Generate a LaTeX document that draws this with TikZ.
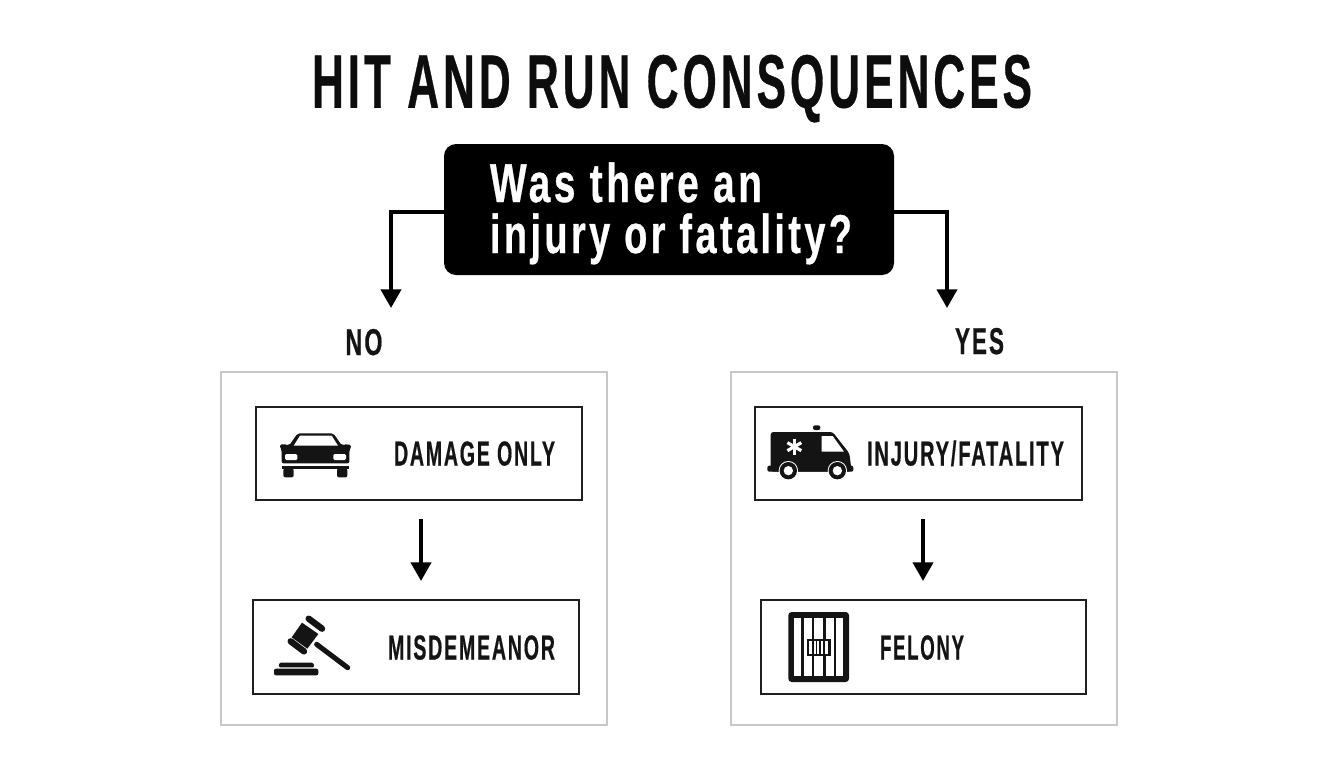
\documentclass[tikz,border=0pt]{standalone}
\usepackage{fontspec}
\usepackage{graphicx}
\setmainfont{Liberation Sans}
\newfontfamily\spacedbold{Liberation Sans Bold}[LetterSpace=9,FakeBold=0.7]
\usetikzlibrary{arrows.meta}
\newcommand{\fitw}[3]{\resizebox{\dimexpr 0.75pt*#1\relax}{\height}{\fontsize{#2}{#2}\spacedbold #3}}
\tikzset{
  every node/.style={inner sep=0pt,outer sep=0pt},
  panel/.style={draw=black!22,line width=1.6pt},
  itembox/.style={draw=black!88,line width=2pt},
  conn/.style={draw=black,line width=3pt,-{Triangle[length=14pt,width=15pt]}},
  lbl/.style={anchor=base west,text=black!92},
  ink/.style={fill=black!92,draw=none},
  paper/.style={fill=white,draw=none},
}
\begin{document}
\begin{tikzpicture}[x=0.75pt,y=-0.75pt]
\useasboundingbox[fill=white] (0,0) rectangle (1344,768);
% title
\node[anchor=base west,text=black!95] (title) at (312,107.5) {\fitw{720}{56.5pt}{HIT AND RUN CONSQUENCES}};
% question
\node[fill=black,rounded corners=9pt,minimum width=337.5pt,minimum height=98.25pt] (q) at (669,209.5) {};
\node[anchor=base west,text=white] (q1) at (490,202) {\fitw{272}{41pt}{Was there an}};
\node[anchor=base west,text=white] (q2) at (490,253) {\fitw{362}{41pt}{injury or fatality?}};
% connectors
\coordinate (lt) at (391,308);
\coordinate (rt) at (947,308);
\coordinate (lj) at (391,212);
\coordinate (rj) at (947,212);
\draw[conn] (q.west |- lj) -| (lt);
\draw[conn] (q.east |- rj) -| (rt);
\node[anchor=base west,text=black!92] (no) at (345.5,355) {\fitw{37}{28pt}{NO}};
\node[anchor=base west,text=black!92] (yes) at (955,354) {\fitw{49}{28pt}{YES}};
% panels
\node[panel,minimum width=289.5pt,minimum height=264.75pt] (pl) at (414,548.5) {};
\node[panel,minimum width=289.5pt,minimum height=264.75pt] (pr) at (924,548.5) {};
% item boxes
\node[itembox,minimum width=244.5pt,minimum height=69.75pt] (a) at (419,453.5) {};
\node[itembox,minimum width=244.5pt,minimum height=70.5pt] (b) at (416,647) {};
\node[itembox,minimum width=245.25pt,minimum height=69.75pt] (c) at (918.5,453.5) {};
\node[itembox,minimum width=243.75pt,minimum height=70.5pt] (d) at (923.5,647) {};
% labels
\node[lbl] (ta) at (394,465.5) {\fitw{161}{26pt}{DAMAGE ONLY}};
\node[lbl] (tb) at (388,659.5) {\fitw{167}{26pt}{MISDEMEANOR}};
\node[lbl] (tc) at (867,465.5) {\fitw{197}{26pt}{INJURY/FATALITY}};
\node[lbl] (td) at (880,659.5) {\fitw{84}{26pt}{FELONY}};
% inner arrows
\coordinate (a1) at (421,519); \coordinate (a2) at (421,581);
\coordinate (c1) at (923,519); \coordinate (c2) at (923,581);
\draw[conn] (a1) -- (a2);
\draw[conn] (c1) -- (c2);
% car icon
\begin{scope}[shift={(250,400)},x=0.25pt,y=-0.25pt]
  \fill[ink,rounded corners=1.5pt] (88,136) -- (100,131) -- (117,137) -- (143,100) -- (250,100) -- (276,137) -- (292,131) -- (305,138) -- (298,150) -- (298,190) -- (95,190) -- (95,150) -- cycle;
  \fill[paper] (131,137) -- (150,107) -- (245,107) -- (264,137) -- cycle;
  \fill[paper,rounded corners=1pt] (105,162) rectangle (142,180);
  \fill[paper,rounded corners=1pt] (250,162) rectangle (288,180);
  \fill[ink] (95,197) rectangle (298,208);
  \fill[ink,rounded corners=1.5pt] (100,205) rectangle (131,232);
  \fill[ink,rounded corners=1.5pt] (261,205) rectangle (292,232);
\end{scope}
% gavel icon
\begin{scope}[shift={(250,400)},x=0.25pt,y=-0.25pt]
  \fill[ink] (156,668) -- (205,702) -- (172,746) -- (125,712) -- cycle;
  \draw[black!92,line width=4.8pt,line cap=round] (176,656) -- (216,686);
  \draw[black!92,line width=4.8pt,line cap=round] (122,724) -- (162,754);
  \draw[black!92,line width=3.8pt,line cap=round] (200,733) -- (293,803);
  \fill[ink,rounded corners=1pt] (88,788) -- (190,788) -- (193,802) -- (86,802) -- cycle;
  \fill[ink,rounded corners=1.5pt] (72,806) rectangle (205,826);
\end{scope}
% ambulance icon
\begin{scope}[shift={(750,400)},x=0.25pt,y=-0.25pt]
  \fill[ink,rounded corners=1.5pt] (189,90) -- (189,76) -- (211,76) -- (211,90) -- cycle;
  \fill[ink,rounded corners=2pt] (62,215) -- (62,96) -- (248,96) -- (298,160) -- (303,198) -- (303,215) -- cycle;
  \fill[ink,rounded corners=1.5pt] (52,197) rectangle (310,215);
  \fill[paper] (215,108) -- (248,108) -- (282,155) -- (215,155) -- cycle;
  \foreach \ang in {0,60,120} {
    \draw[white,line width=2.4pt] (133,140) ++(\ang+90:-24) -- ++(\ang+90:48);
  }
  \foreach \wx in {115,262} {
    \fill[paper] (\wx,212) circle[radius=29];
    \fill[ink] (\wx,212) circle[radius=26];
    \fill[paper] (\wx,212) circle[radius=14];
  }
\end{scope}
% jail icon
\begin{scope}[shift={(750,400)},x=0.25pt,y=-0.25pt]
  \fill[ink,rounded corners=2.5pt] (115,636) rectangle (297,846);
  \fill[paper] (133,654) rectangle (279,829);
  \foreach \bx in {153,185,219,251} { \fill[ink] (\bx,654) rectangle (\bx+8,829); }
  \fill[ink] (170,716) rectangle (242,769);
  \fill[paper] (177,724) rectangle (235,761);
  \foreach \bx in {186,197,208,219} { \fill[ink] (\bx,724) rectangle (\bx+5,761); }
\end{scope}
\end{tikzpicture}
\end{document}
